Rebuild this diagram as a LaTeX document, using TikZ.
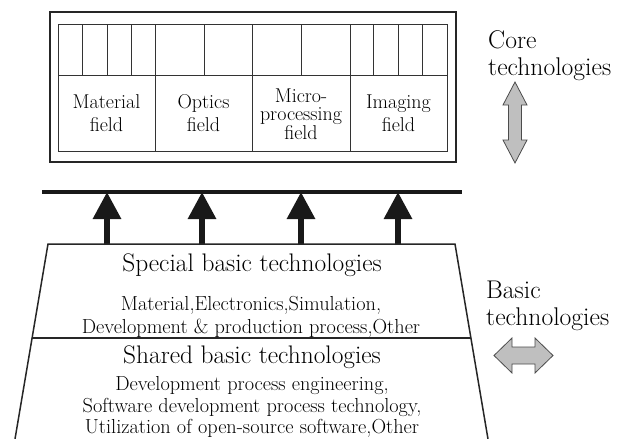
\documentclass[tikz,border=0pt]{standalone}
\usetikzlibrary{arrows.meta}
\begin{document}
\begin{tikzpicture}[x=1pt,y=-1pt,
  smalltxt/.style={font=\fontsize{20.3}{23}\selectfont, align=center, inner sep=0pt},
  toptxt/.style={font=\fontsize{20}{23}\selectfont, align=center, inner sep=0pt},
  microtxt/.style={font=\fontsize{20}{18.5}\selectfont, align=center, inner sep=0pt},
  bigtxt/.style={font=\fontsize{25.4}{27}\selectfont, align=center, inner sep=0pt},
  sidetxt/.style={font=\fontsize{25.6}{27}\selectfont, align=left, inner sep=0pt, anchor=west},
  outerbox/.style={draw=black!85, line width=2pt},
  thinline/.style={draw=black!80, line width=1pt},
  trapline/.style={draw=black!85, line width=1.5pt},
  barline/.style={draw=black!90, line width=4pt},
  upshaft/.style={draw=black!90, line width=6pt, -{Triangle[width=27pt,length=27pt]}},
  grayarrow/.style={draw=black!70, fill=black!25, line width=0.8pt, line join=miter}
]
\useasboundingbox (0,0) rectangle (625,439);
\fill[white] (0,0) rectangle (625,439);

% ---- top box ----
\draw[outerbox] (50,12) rectangle (456,162);
\draw[thinline] (58,24) rectangle (447,151);
\draw[thinline] (58,75) -- (447,75);
\foreach \x in {155,252,350} \draw[thinline] (\x,24) -- (\x,151);
\foreach \x in {82,107,131,204,301,373,398,422} \draw[thinline] (\x,24) -- (\x,75);

\node[toptxt] (material) at (106.5,113.5) {Material\\field};
\node[toptxt] (optics) at (203.5,113.5) {Optics\\field};
\node[microtxt] (micro) at (301,114) {Micro-\\processing\\field};
\node[toptxt] (imaging) at (398.5,113.5) {Imaging\\field};

% ---- bar and arrows ----
\coordinate (barL) at (42,192);
\coordinate (barR) at (462,192);
\draw[barline] (barL) -- (barR);
\foreach \i/\x in {1/107,2/202,3/301,4/398}{
  \coordinate (s\i) at (\x,245);
  \coordinate (t\i) at (\x,192);
  \draw[upshaft] (s\i) -- (t\i);
}

% ---- trapezoid ----
\coordinate (bl) at (15,439);
\coordinate (tl) at (48,244);
\coordinate (tr) at (455,244);
\coordinate (br) at (488,439);
\draw[trapline] (bl) -- (tl) -- (tr) -- (br);
\draw[trapline] (32,338) -- (471,338);

\node[bigtxt] (special) at (252,265) {Special basic technologies};
\node[smalltxt] (specialbody) at (251,316.5) {Material,Electronics,Simulation,\\Development \& production process,Other};
\node[bigtxt] (shared) at (252,357) {Shared basic technologies};
\node[smalltxt, font=\fontsize{20.3}{21.5}\selectfont] (sharedbody) at (252,407) {Development process engineering,\\Software development process technology,\\Utilization of open-source software,Other};

% ---- side labels ----
\node[sidetxt] (core) at (488,56) {Core\\technologies};
\node[sidetxt] (basic) at (486,306) {Basic\\technologies};

\draw[grayarrow] (515,82) -- (527,105) -- (521.5,105) -- (521.5,140) -- (527,140) -- (515,163)
  -- (503,140) -- (508.5,140) -- (508.5,105) -- (503,105) -- cycle;
\draw[grayarrow] (494,355.5) -- (512,338) -- (512,347) -- (535,347) -- (535,338) -- (553,355.5)
  -- (535,373) -- (535,364) -- (512,364) -- (512,373) -- cycle;
\end{tikzpicture}
\end{document}
